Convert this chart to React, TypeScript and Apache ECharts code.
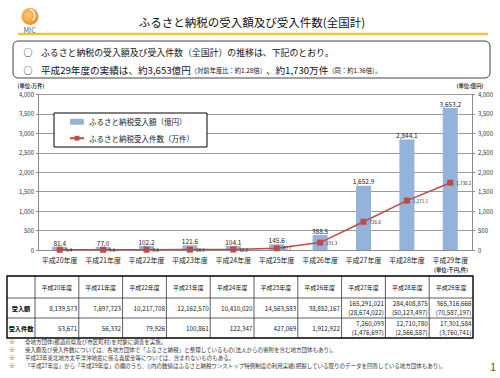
import React, { useEffect, useRef } from "react";
import * as echarts from "echarts";

const categories = ["平成20年度", "平成21年度", "平成22年度", "平成23年度", "平成24年度", "平成25年度", "平成26年度", "平成27年度", "平成28年度", "平成29年度"];
const amountOku = [81.4, 77.0, 102.2, 121.6, 104.1, 145.6, 388.5, 1652.9, 2844.1, 3653.2];
const countMan = [5.4, 5.6, 8.0, 10.1, 12.2, 42.7, 191.3, 726.0, 1271.1, 1730.2];
const tableAmounts = ["8,139,573", "7,697,723", "10,217,708", "12,162,570", "10,410,020", "14,563,583", "38,852,167", "165,291,021", "284,408,875", "365,316,666"];
const tableAmountsOneStop = ["", "", "", "", "", "", "", "(28,674,022)", "(50,123,497)", "(70,587,197)"];
const tableCounts = ["53,671", "56,332", "79,926", "100,861", "122,347", "427,069", "1,912,922", "7,260,093", "12,710,780", "17,301,584"];
const tableCountsOneStop = ["", "", "", "", "", "", "", "(1,476,697)", "(2,566,587)", "(3,760,741)"];
const rowLabels = ["受入額", "受入件数"];
const footnotes = [
  "全地方団体(都道府県及び市区町村)を対象に調査を実施。",
  "受入額及び受入件数については、各地方団体で「ふるさと納税」と整理しているもの(法人からの寄附を含む地方団体もあり)。",
  "平成23年東北地方太平洋沖地震に係る義援金等については、含まれないものもある。",
  "「平成27年度」から「平成29年度」の欄のうち、()内の数値はふるさと納税ワンストップ特例制度の利用実績(把握している限りのデータを回答している地方団体もあり)。",
];
const seriesNames = ["ふるさと納税受入額（億円）", "ふるさと納税受入件数（万件）"];

const FONT = '"Noto Sans CJK JP", "Noto Sans", sans-serif';
const fmt1 = (v: number) => v.toLocaleString("en-US", { minimumFractionDigits: 1, maximumFractionDigits: 1 });

function txt(x: number, y: number, text: string, size: number, opts: any = {}) {
  const align = opts.align || "left";
  const va = opts.va || "middle";
  return {
    type: "text",
    x,
    y,
    z: 10,
    style: {
      text,
      fontSize: size,
      fontFamily: FONT,
      fontWeight: opts.weight || "normal",
      fill: opts.fill || "#222",
      align,
      textAlign: align,
      verticalAlign: va,
      textVerticalAlign: va,
    },
  };
}

function line(x1: number, y1: number, x2: number, y2: number, stroke: string, w: number) {
  return { type: "line", z: 9, shape: { x1, y1, x2, y2 }, style: { stroke, lineWidth: w } };
}

function buildGraphics() {
  const g: any[] = [];
  // logo
  g.push({
    type: "circle",
    z: 9,
    shape: { cx: 30, cy: 16.5, r: 8.5 },
    style: {
      fill: { type: "radial", x: 0.4, y: 0.4, r: 0.7, colorStops: [{ offset: 0, color: "#FCCB74" }, { offset: 1, color: "#E98A1E" }] },
    },
  });
  g.push({ type: "arc", z: 10, shape: { cx: 28.5, cy: 15.5, r: 6.2, startAngle: -1.4, endAngle: 0.9 }, style: { stroke: "#fff", lineWidth: 1.3, fill: null } });
  g.push(txt(29.5, 30, "MIC", 7, { align: "center", fill: "#5a6670" }));
  // title
  g.push(txt(252, 22, "ふるさと納税の受入額及び受入件数(全国計)", 11.5, { align: "center", fill: "#111" }));
  g.push(line(18, 34, 488, 34, "#F2C23A", 2.5));
  // box
  g.push({ type: "rect", z: 9, shape: { x: 13, y: 41, width: 477, height: 37, r: 5 }, style: { stroke: "#444", lineWidth: 1, fill: "rgba(0,0,0,0)" } });
  g.push(txt(28, 52, "○", 9, { align: "center", fill: "#111" }));
  g.push(txt(28, 70, "○", 9, { align: "center", fill: "#111" }));
  g.push(txt(41, 52, "ふるさと納税の受入額及び受入件数（全国計）の推移は、下記のとおり。", 8.9, { fill: "#111" }));
  g.push({
    type: "text",
    x: 41,
    y: 70,
    z: 10,
    style: {
      text: "{b|平成29年度の実績は、約3,653億円}{s|（対前年度比：約1.28倍）}{b|、約1,730万件}{s|（同：約1.36倍）。}",
      fontFamily: FONT,
      fill: "#111",
      verticalAlign: "middle",
      textVerticalAlign: "middle",
      rich: {
        b: { fontSize: 9.6, fontFamily: FONT, fill: "#111", verticalAlign: "bottom" },
        s: { fontSize: 6.3, fontFamily: FONT, fill: "#111", verticalAlign: "bottom", padding: [0, 0, 1, 0] },
      },
    },
  });
  // unit labels
  g.push(txt(31, 86, "(単位:万件)", 5.3, { align: "center", fill: "#333", weight: "bold" }));
  g.push(txt(470, 86, "(単位:億円)", 5.3, { align: "center", fill: "#333", weight: "bold" }));
  g.push(txt(451, 269.5, "(単位:千円,件)", 5.3, { align: "center", fill: "#333", weight: "bold" }));

  // table
  const x0 = 7, firstW = 28, colW = 43.8;
  const ys = [276, 298, 318, 338];
  const xEnd = x0 + firstW + colW * categories.length;
  for (let i = 1; i < ys.length - 1; i++) g.push(line(x0, ys[i], xEnd, ys[i], "#333", 0.8));
  for (let c = 1; c <= categories.length - 1; c++) {
    const x = x0 + firstW + colW * c;
    g.push(line(x, ys[0], x, ys[3], "#333", 0.8));
  }
  g.push(line(x0 + firstW, ys[0], x0 + firstW, ys[3], "#333", 0.8));
  g.push({ type: "rect", z: 10, shape: { x: x0, y: ys[0], width: xEnd - x0, height: ys[3] - ys[0] }, style: { stroke: "#000", lineWidth: 1.4, fill: "rgba(0,0,0,0)" } });
  categories.forEach((c, i) => {
    const cx = x0 + firstW + colW * (i + 0.5);
    g.push(txt(cx, (ys[0] + ys[1]) / 2, c, 6, { align: "center", fill: "#111" }));
  });
  g.push(txt(x0 + firstW / 2, (ys[1] + ys[2]) / 2, rowLabels[0], 6.2, { align: "center", fill: "#000", weight: "bold" }));
  g.push(txt(x0 + firstW / 2, (ys[2] + ys[3]) / 2, rowLabels[1], 6.2, { align: "center", fill: "#000", weight: "bold" }));
  const rows = [
    [tableAmounts, tableAmountsOneStop],
    [tableCounts, tableCountsOneStop],
  ];
  rows.forEach(([main, sub], r) => {
    const top = ys[r + 1], bot = ys[r + 2];
    const mid = (top + bot) / 2;
    main.forEach((v, i) => {
      const rx = x0 + firstW + colW * (i + 1) - 1.5;
      if (sub[i]) {
        g.push(txt(rx, mid - 4.6, v, 6.3, { align: "right", fill: "#222" }));
        g.push(txt(rx, mid + 4.8, sub[i], 6.3, { align: "right", fill: "#222" }));
      } else {
        g.push(txt(rx, mid, v, 6.3, { align: "right", fill: "#222" }));
      }
    });
  });
  // footnotes
  footnotes.forEach((f, i) => {
    const y = 342 + i * 8;
    g.push(txt(12, y, "※", 5.6, { align: "center", fill: "#333" }));
    g.push(txt(25, y, f, 5.5, { fill: "#333" }));
  });
  g.push(txt(493, 366, "1", 11, { align: "center", fill: "#555" }));
  return g;
}

export default function App() {
  const ref = useRef<HTMLDivElement>(null);
  useEffect(() => {
    if (!ref.current) return;
    const chart = echarts.init(ref.current, undefined, { renderer: "svg" });
    const axisColor = "#8c8c8c";
    chart.setOption({
      animation: false,
      backgroundColor: "#fff",
      textStyle: { fontFamily: FONT },
      grid: { left: 38, top: 94.5, width: 434, height: 155.5, containLabel: false },
      legend: {
        left: 54,
        top: 113,
        orient: "vertical",
        backgroundColor: "#fff",
        borderColor: "#000",
        borderWidth: 1,
        padding: [5, 13, 5, 15],
        itemGap: 9,
        itemWidth: 14,
        itemHeight: 6,
        textStyle: { fontSize: 7.5, color: "#222", fontFamily: FONT },
        data: seriesNames,
      },
      xAxis: {
        type: "category",
        data: categories,
        axisLine: { lineStyle: { color: axisColor } },
        axisTick: { show: false },
        axisLabel: { interval: 0, fontSize: 7, color: "#222", margin: 6, fontFamily: FONT },
      },
      yAxis: [
        {
          type: "value",
          min: 0,
          max: 4000,
          interval: 500,
          position: "left",
          axisLine: { show: true, lineStyle: { color: axisColor } },
          axisTick: { show: true, length: 2, lineStyle: { color: axisColor } },
          axisLabel: { fontSize: 6, color: "#333", margin: 4, formatter: (v: number) => v.toLocaleString("en-US") },
          splitLine: { show: true, lineStyle: { color: "#9a9a9a", width: 1 } },
        },
        {
          type: "value",
          min: 0,
          max: 4000,
          interval: 500,
          position: "right",
          axisLine: { show: true, lineStyle: { color: axisColor } },
          axisTick: { show: true, length: 3, lineStyle: { color: axisColor } },
          axisLabel: { fontSize: 6, color: "#333", margin: 6, formatter: (v: number) => v.toLocaleString("en-US") },
          splitLine: { show: false },
        },
      ],
      series: [
        {
          type: "bar",
          name: seriesNames[0],
          yAxisIndex: 1,
          data: amountOku,
          barWidth: 15,
          itemStyle: { color: "#93B3DA" },
          label: { show: true, position: "top", distance: 1, fontSize: 6.5, color: "#222", formatter: (p: any) => fmt1(p.value) },
        },
        {
          type: "line",
          name: seriesNames[1],
          yAxisIndex: 0,
          data: countMan,
          symbol: "rect",
          symbolSize: 6,
          lineStyle: { color: "#BE4B48", width: 1.5 },
          itemStyle: { color: "#BE4B48" },
          label: { show: true, position: "right", distance: 3, fontSize: 4.5, color: "#222", formatter: (p: any) => fmt1(p.value) },
        },
      ],
      graphic: buildGraphics(),
    });
    return () => chart.dispose();
  }, []);
  return <div ref={ref} style={{ position: "fixed", left: 0, top: 0, width: 500, height: 378, background: "#fff" }} />;
}
